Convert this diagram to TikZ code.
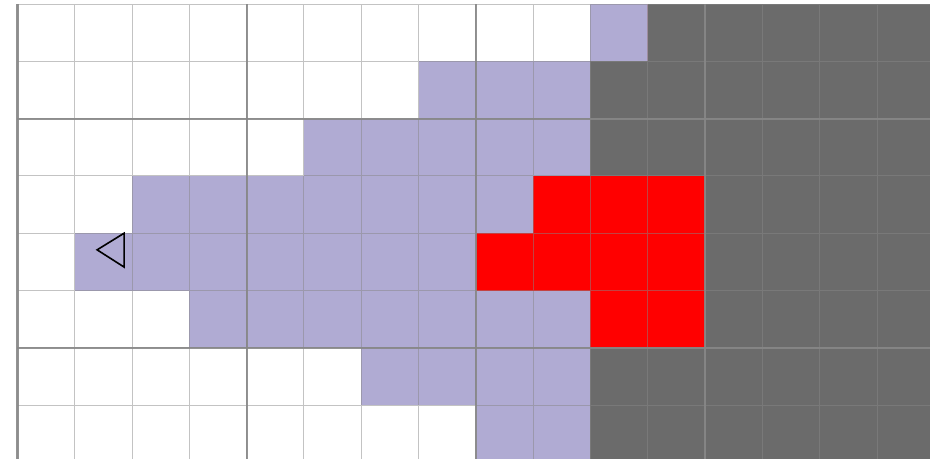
\documentclass[tikz,border=0pt]{standalone}
\definecolor{reach}{HTML}{B0ABD3}
\definecolor{wall}{HTML}{6B6B6B}
\definecolor{goal}{HTML}{FF0000}
\definecolor{gridc}{HTML}{878787}
\begin{document}
\begin{tikzpicture}[x=1cm, y=1cm]
  % 画布大小：与原图比例一致（网格 16 x 8，右侧与底部略被裁掉）
  \useasboundingbox (-0.305,0.06) rectangle (15.925,8.07);

  % 每一行：紫色从 \a 到 \b，红色从 \b 到 \c，灰色从 \c 到 16（行号自上而下）
  \foreach \r/\a/\b/\c in {0/10/11/11, 1/7/10/10, 2/5/10/10, 3/2/9/12,
                           4/1/8/12, 5/3/10/12, 6/6/10/10, 7/8/10/10} {
    \fill[reach] (\a,7-\r) rectangle (\b,8-\r);
    \fill[goal]  (\b,7-\r) rectangle (\c,8-\r);
    \fill[wall]  (\c,7-\r) rectangle (16,8-\r);
  }

  % 细网格线
  \draw[gridc, opacity=0.5, line width=0.5pt] (0,0) grid (16,8);

  % 粗网格线（竖线每 4 列，横线在第 2、6 行下方）
  \foreach \x in {0,4,8,12}
    \draw[gridc, opacity=0.9, line width=1.1pt] (\x,0) -- (\x,8);
  \foreach \y in {2,6}
    \draw[gridc, opacity=0.9, line width=1.1pt] (0,\y) -- (16,\y);

  % 起点三角形（指向左）
  \coordinate (A) at (1.39,3.71); % 尖端
  \coordinate (B) at (1.86,4.00);
  \coordinate (C) at (1.86,3.41);
  \draw[line width=0.8pt, line join=miter] (A) -- (B) -- (C) -- cycle;
\end{tikzpicture}
\end{document}
